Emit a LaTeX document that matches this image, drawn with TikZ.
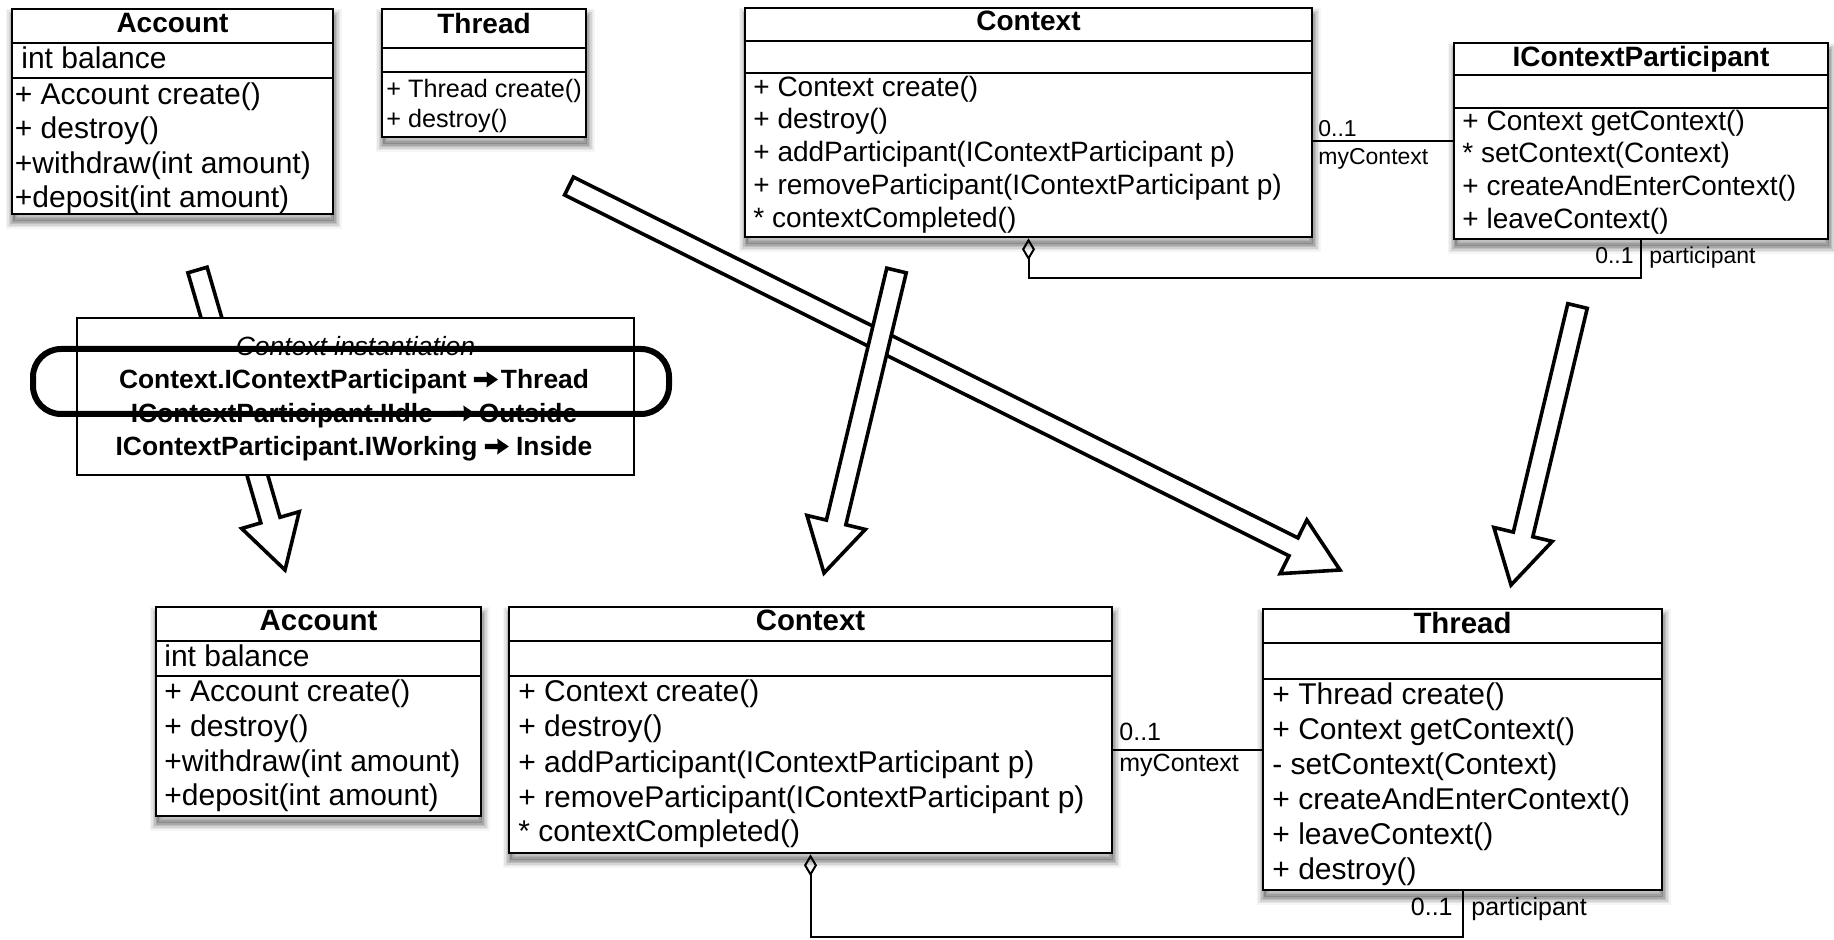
\documentclass[tikz,border=0pt]{standalone}
\usepackage{fontspec}
\setmainfont{Liberation Sans}
\usetikzlibrary{calc,fit,arrows.meta}

% heavy right arrow used in the instantiation rules
\newcommand\heavyarrow{\tikz[baseline=0pt]
  \fill (0pt,3.3pt) -- (6.5pt,3.3pt) -- (6.2pt,0.6pt) -- (12pt,4.6pt)
        -- (6.2pt,8.6pt) -- (6.5pt,5.9pt) -- (0pt,5.9pt) -- cycle;}

% hollow block arrow from a tail point to a tip point
\newcommand\blockarrow[3]{%
  \coordinate (#1-base) at ($(#3)!26pt!(#2)$);
  \draw[blockarr]
    ($(#2)!5pt!90:(#3)$) -- ($(#1-base)!5pt!90:(#3)$) --
    ($(#1-base)!15pt!90:(#3)$) -- (#3) --
    ($(#1-base)!15pt!-90:(#3)$) -- ($(#1-base)!5pt!-90:(#3)$) --
    ($(#2)!5pt!-90:(#3)$) -- cycle;
}

\begin{document}
\begin{tikzpicture}[x=0.5pt,y=-0.5pt,
  shadowlayer/.style 2 args={preaction={draw=black, line width=#1, opacity=#2,
    transform canvas={xshift=0.6pt, yshift=-3.6pt}}},
  classbox/.style={draw, line width=1.3pt, fill=white, inner sep=0pt,
    preaction={fill=black, opacity=0.16, transform canvas={xshift=0.6pt, yshift=-3.6pt}},
    shadowlayer={1.5pt}{0.12}, shadowlayer={3pt}{0.10},
    shadowlayer={4.5pt}{0.08}, shadowlayer={6pt}{0.06}, shadowlayer={7.5pt}{0.04}},
  divider/.style={line width=1.3pt},
  titleS/.style={inner sep=0pt, font=\bfseries\fontsize{14}{16}\selectfont,
    text height=10pt, text depth=3pt},
  titleL/.style={inner sep=0pt, font=\bfseries\fontsize{14.7}{17}\selectfont,
    text height=10.5pt, text depth=3pt},
  rowS/.style={anchor=west, inner sep=0pt, font=\fontsize{14}{16}\selectfont,
    text height=10pt, text depth=3pt},
  rowXS/.style={anchor=west, inner sep=0pt, font=\fontsize{12.6}{15}\selectfont,
    text height=9pt, text depth=2.7pt},
  rowL/.style={anchor=west, inner sep=0pt, font=\fontsize{15}{17}\selectfont,
    text height=10.8pt, text depth=3.2pt},
  lblS/.style={inner sep=0pt, font=\fontsize{11.5}{13}\selectfont,
    text height=8.3pt, text depth=2.4pt},
  lblL/.style={inner sep=0pt, font=\fontsize{12.5}{14}\selectfont,
    text height=9pt, text depth=2.6pt},
  assoc/.style={line width=1pt},
  agg/.style={line width=1pt, {Diamond[open, length=11pt, width=6.5pt, line width=1pt]}-},
  blockarr/.style={draw, fill=white, line width=1.8pt, line join=miter},
  instbox/.style={draw, fill=white, line width=0.9pt, inner sep=0pt},
  instline/.style={inner sep=0pt, font=\fontsize{13.2}{15}\selectfont,
    text height=9.5pt, text depth=2.8pt},
  instrule/.style={instline, font=\bfseries\fontsize{13.2}{15}\selectfont},
  hilite/.style={draw, line width=3pt, rounded corners=14pt, inner sep=0pt}
]
\useasboundingbox[fill=white] (0,0) rectangle (1834,940);

% ---------------- upper row: original classes ----------------
% Account
\node[classbox, fit={(12,9) (333,214)}] (accT) {};
\draw[divider] (12,43) -- (333,43);
\draw[divider] (12,78) -- (333,78);
\node[titleS] (accT-t) at (172.5,26) {Account};
\node[rowL] (accT-a1) at (21,60.5) {int balance};
\node[rowL] (accT-m1) at (14.5,96.5) {+ Account create()};
\node[rowL] (accT-m2) at (14.5,131) {+ destroy()};
\node[rowL] (accT-m3) at (14.5,165.5) {+withdraw(int amount)};
\node[rowL] (accT-m4) at (14.5,200) {+deposit(int amount)};

% Thread
\node[classbox, fit={(382,9) (586,137)}] (thrT) {};
\draw[divider] (382,48) -- (586,48);
\draw[divider] (382,72) -- (586,72);
\node[titleS] (thrT-t) at (484,27) {Thread};
\node[rowXS] (thrT-m1) at (386,91) {+ Thread create()};
\node[rowXS] (thrT-m2) at (386,121.5) {+ destroy()};

% Context
\node[classbox, fit={(745,8) (1312,237)}] (ctxT) {};
\draw[divider] (745,41) -- (1312,41);
\draw[divider] (745,73) -- (1312,73);
\node[titleS] (ctxT-t) at (1028.5,24) {Context};
\node[rowS] (ctxT-m1) at (753,89.5) {+ Context create()};
\node[rowS] (ctxT-m2) at (753,122) {+ destroy()};
\node[rowS] (ctxT-m3) at (753,155) {+ addParticipant(IContextParticipant p)};
\node[rowS] (ctxT-m4) at (753,188) {+ removeParticipant(IContextParticipant p)};
\node[rowS] (ctxT-m5) at (753,221) {* contextCompleted()};

% IContextParticipant
\node[classbox, fit={(1454,43) (1828,239)}] (icpT) {};
\draw[divider] (1454,75) -- (1828,75);
\draw[divider] (1454,108) -- (1828,108);
\node[titleS] (icpT-t) at (1641,59.5) {IContextParticipant};
\node[rowS] (icpT-m1) at (1462,123.5) {+ Context getContext()};
\node[rowS] (icpT-m2) at (1462,156) {* setContext(Context)};
\node[rowS] (icpT-m3) at (1462,189) {+ createAndEnterContext()};
\node[rowS] (icpT-m4) at (1462,222) {+ leaveContext()};

% relations between Context and IContextParticipant
\draw[assoc] (icpT.west) -- (icpT.west -| ctxT.east);
\node[lblS, anchor=west] (ctxT-mult) at (1318,131) {0..1};
\node[lblS, anchor=west] (ctxT-role) at (1318,158.5) {myContext};
\draw[agg] (ctxT.south) -- ++(0,40) -| (icpT.south);
\node[lblS, anchor=east] (icpT-mult) at (1634,258) {0..1};
\node[lblS, anchor=west] (icpT-role) at (1649,258) {participant};

% ---------------- lower row: instantiated classes ----------------
% Account
\node[classbox, fit={(156,607) (481,816)}] (accB) {};
\draw[divider] (156,641) -- (481,641);
\draw[divider] (156,676) -- (481,676);
\node[titleL] (accB-t) at (318.5,623) {Account};
\node[rowL] (accB-a1) at (164,658.5) {int balance};
\node[rowL] (accB-m1) at (164,693.5) {+ Account create()};
\node[rowL] (accB-m2) at (164,728.5) {+ destroy()};
\node[rowL] (accB-m3) at (164,763.5) {+withdraw(int amount)};
\node[rowL] (accB-m4) at (164,798) {+deposit(int amount)};

% Context
\node[classbox, fit={(509,607) (1112,853)}] (ctxB) {};
\draw[divider] (509,641) -- (1112,641);
\draw[divider] (509,676) -- (1112,676);
\node[titleL] (ctxB-t) at (810.5,623) {Context};
\node[rowL] (ctxB-m1) at (518,694) {+ Context create()};
\node[rowL] (ctxB-m2) at (518,729) {+ destroy()};
\node[rowL] (ctxB-m3) at (518,764.5) {+ addParticipant(IContextParticipant p)};
\node[rowL] (ctxB-m4) at (518,799.5) {+ removeParticipant(IContextParticipant p)};
\node[rowL] (ctxB-m5) at (518,834) {* contextCompleted()};

% Thread
\node[classbox, fit={(1263,609) (1662,890)}] (thrB) {};
\draw[divider] (1263,643) -- (1662,643);
\draw[divider] (1263,679) -- (1662,679);
\node[titleL] (thrB-t) at (1462.5,626) {Thread};
\node[rowL] (thrB-m1) at (1272,697) {+ Thread create()};
\node[rowL] (thrB-m2) at (1272,732) {+ Context getContext()};
\node[rowL] (thrB-m3) at (1272,767) {- setContext(Context)};
\node[rowL] (thrB-m4) at (1272,802) {+ createAndEnterContext()};
\node[rowL] (thrB-m5) at (1272,837) {+ leaveContext()};
\node[rowL] (thrB-m6) at (1272,872) {+ destroy()};

% relations between Context and Thread
\draw[assoc] (thrB.west) -- (thrB.west -| ctxB.east);
\node[lblL, anchor=west] (ctxB-mult) at (1119,734) {0..1};
\node[lblL, anchor=west] (ctxB-role) at (1119,765) {myContext};
\draw[agg] (ctxB.south) -- ++(0,83) -| (thrB.south);
\node[lblL, anchor=east] (thrB-mult) at (1453,909) {0..1};
\node[lblL, anchor=west] (thrB-role) at (1471,909) {participant};

% ---------------- mapping arrows ----------------
\coordinate (thrT-out) at (569,186);
\coordinate (thrB-in)  at (1340,570);
\blockarrow{mapThr}{thrT-out}{thrB-in}

\coordinate (ctxT-out) at (896.5,270.5);
\coordinate (ctxB-in)  at (824,573);
\blockarrow{mapCtx}{ctxT-out}{ctxB-in}

\coordinate (accT-out) at (197.5,270);
\coordinate (accB-in)  at (285,570);
\blockarrow{mapAcc}{accT-out}{accB-in}

\coordinate (icpT-out) at (1577.5,306);
\coordinate (icpB-in)  at (1511,585);
\blockarrow{mapIcp}{icpT-out}{icpB-in}

% ---------------- instantiation rules ----------------
\node[instbox, fit={(77,318) (634,475)}] (inst) {};
\node[instline] (inst-l1) at (355.5,349) {\itshape Context instantiation};
\node[instrule] (inst-l2) at (354,382)
  {Context.IContextParticipant \heavyarrow\hspace{1.5pt}Thread};
\node[instrule] (inst-l3) at (354,416)
  {IContextParticipant.IIdle\hspace{9pt}\heavyarrow\hspace{2pt}Outside};
\node[instrule] (inst-l4) at (354,449)
  {IContextParticipant.IWorking \heavyarrow\ Inside};

\node[hilite, fit={(33,349) (669,414)}] (rule-mark) {};
\end{tikzpicture}
\end{document}
